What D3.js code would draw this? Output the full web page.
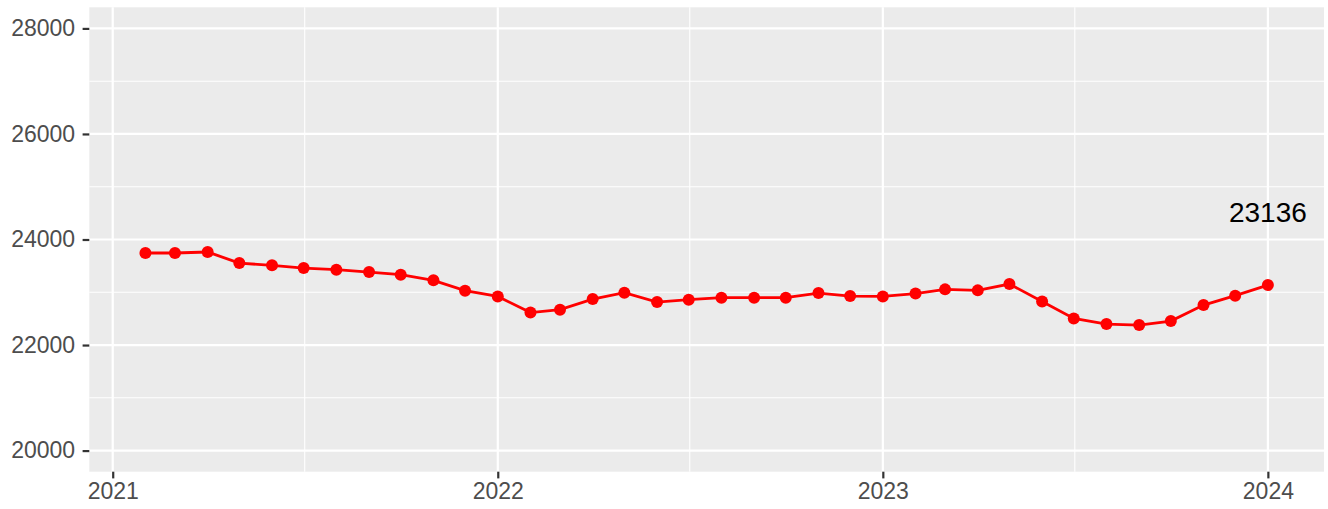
<!DOCTYPE html>
<html><head><meta charset="utf-8">
<script src="https://cdn.jsdelivr.net/npm/d3@7"></script>
<style>
html,body{margin:0;padding:0;background:#fff}
svg{display:block;font-family:"Liberation Sans",Arial,sans-serif}
</style></head>
<body><div id="chart"></div>
<script>
const W=1328,H=509;
const months=['2021-02','2021-03','2021-04','2021-05','2021-06','2021-07','2021-08','2021-09','2021-10','2021-11','2021-12',
  '2022-01','2022-02','2022-03','2022-04','2022-05','2022-06','2022-07','2022-08','2022-09','2022-10','2022-11','2022-12',
  '2023-01','2023-02','2023-03','2023-04','2023-05','2023-06','2023-07','2023-08','2023-09','2023-10','2023-11','2023-12','2024-01'];
const values=[23744,23744,23763,23554,23510,23459,23429,23383,23334,23226,23030,
  22922,22615,22670,22871,22992,22814,22860,22898,22898,22898,22985,22928,
  22922,22975,23055,23036,23156,22827,22505,22397,22378,22454,22757,22935,23136];
const yTicks=[20000,22000,24000,26000,28000];
const yMinor=[21000,23000,25000,27000];
const xTicks=['2021-01-01','2022-01-01','2023-01-01','2024-01-01'];
const xMinor=['2021-07-02','2022-07-02','2023-07-02'];
const yLimits=[20000,28000];

const parse=d3.utcParse('%Y-%m'),parseD=d3.utcParse('%Y-%m-%d');
const data=months.map((m,i)=>({date:parse(m),value:values[i]}));
const m={l:89.3,r:4,t:7.3,b:37.3};
const pw=W-m.l-m.r,ph=H-m.t-m.b;

// ggplot-style 5% expansion
const xe=d3.extent(data,d=>d.date),xs=(xe[1]-xe[0])*0.05;
const x=d3.scaleUtc().domain([new Date(+xe[0]-xs),new Date(+xe[1]+xs)]).range([m.l,m.l+pw]);
const ys=(yLimits[1]-yLimits[0])*0.05;
const y=d3.scaleLinear().domain([yLimits[0]-ys,yLimits[1]+ys]).range([m.t+ph,m.t]);

const svg=d3.select('#chart').append('svg').attr('width',W).attr('height',H);
svg.append('rect').attr('x',m.l).attr('y',m.t).attr('width',pw).attr('height',ph).attr('fill','#EBEBEB');

const g=svg.append('g');
g.selectAll('.ymin').data(yMinor).join('line').attr('x1',m.l).attr('x2',m.l+pw).attr('y1',d=>y(d)).attr('y2',d=>y(d)).attr('stroke','#fff').attr('stroke-width',1.1);
g.selectAll('.xmin').data(xMinor).join('line').attr('y1',m.t).attr('y2',m.t+ph).attr('x1',d=>x(parseD(d))).attr('x2',d=>x(parseD(d))).attr('stroke','#fff').attr('stroke-width',1.1);
g.selectAll('.ymaj').data(yTicks).join('line').attr('x1',m.l).attr('x2',m.l+pw).attr('y1',d=>y(d)).attr('y2',d=>y(d)).attr('stroke','#fff').attr('stroke-width',2.2);
g.selectAll('.xmaj').data(xTicks).join('line').attr('y1',m.t).attr('y2',m.t+ph).attr('x1',d=>x(parseD(d))).attr('x2',d=>x(parseD(d))).attr('stroke','#fff').attr('stroke-width',2.2);

// axes
const yAxis=d3.axisLeft(y).tickValues(yTicks).tickSize(6.7).tickPadding(7.5).tickFormat(d3.format('d'));
const ya=svg.append('g').attr('transform',`translate(${m.l},0)`).call(yAxis);
const xAxis=d3.axisBottom(x).tickValues(xTicks.map(parseD)).tickSize(6.7).tickPadding(4).tickFormat(d3.utcFormat('%Y'));
const xa=svg.append('g').attr('transform',`translate(0,${m.t+ph})`).call(xAxis);
[ya,xa].forEach(a=>{
  a.select('.domain').remove();
  a.selectAll('.tick line').attr('stroke','#333').attr('stroke-width',2.2);
  a.selectAll('.tick text').attr('fill','#4D4D4D').attr('font-size',23).attr('font-family','"Liberation Sans",Arial,sans-serif');
});

// series
const line=d3.line().x(d=>x(d.date)).y(d=>y(d.value));
svg.append('path').datum(data).attr('fill','none').attr('stroke','#FF0000').attr('stroke-width',2.8).attr('d',line);
svg.selectAll('.pt').data(data).join('circle').attr('cx',d=>x(d.date)).attr('cy',d=>y(d.value)).attr('r',6).attr('fill','#FF0000');

// last-value label
const last=data[data.length-1];
svg.append('text').attr('x',x(last.date)).attr('y',y(last.value*1.06)).attr('dy','0.36em')
  .attr('text-anchor','middle').attr('font-size',28).attr('fill','#000').text(last.value);
</script></body></html>
